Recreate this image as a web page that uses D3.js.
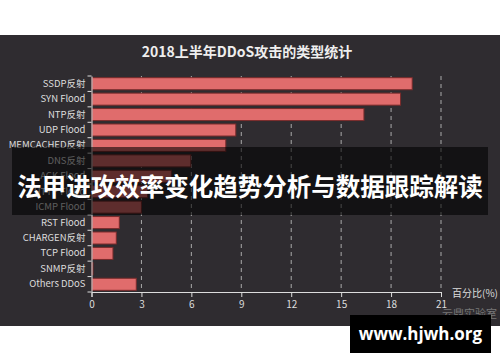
<!DOCTYPE html>
<html><head><meta charset="utf-8">
<script src="https://cdn.jsdelivr.net/npm/d3@7/dist/d3.min.js"></script>
<style>html,body{margin:0;padding:0;background:#fff;}svg{display:block;}</style>
</head><body>
<svg id="c" width="500" height="362"></svg>
<script>
const categories = ["SSDP反射","SYN Flood","NTP反射","UDP Flood","MEMCACHED反射","DNS反射","ACK Flood","HTTP Flood","ICMP Flood","RST Flood","CHARGEN反射","TCP Flood","SNMP反射","Others DDoS"];
const values = [19.27,18.57,16.37,8.67,8.07,5.97,4.8,3.37,3.0,1.67,1.49,1.29,0.07,2.69];
const xTicks = [0,3,6,9,12,15,18,21];
const title = "2018上半年DDoS攻击的类型统计";
const axisName = "百分比(%)";
const credit = "云鼎实验室";
const banner = "法甲进攻效率变化趋势分析与数据跟踪解读";
const site = "www.hjwh.org";

const svg = d3.select("#c");
const font = "'Noto Sans CJK SC','Open Sans',sans-serif";

svg.append("rect").attr("x",0).attr("y",35).attr("width",500).attr("height",291).attr("fill","#2f2c30");

svg.append("text").attr("x",247).attr("y",57).attr("text-anchor","middle")
  .attr("font-family",font).attr("font-weight","bold").attr("font-size",14).attr("fill","#eeeeee").text(title);

const x = d3.scaleLinear().domain([0,21]).range([91.5,441]);
const y = d3.scaleBand().domain(categories).range([76,292]).paddingInner(0.22).paddingOuter(0.11);
const yb = d3.scaleBand().domain(categories).range([76,292]);

// grid
svg.append("g").selectAll("line").data(xTicks.slice(1)).join("line")
  .attr("x1",d=>x(d)).attr("x2",d=>x(d)).attr("y1",76).attr("y2",292)
  .attr("stroke","#aaaaaa").attr("stroke-width",1).attr("stroke-dasharray","4,4");

// bars
svg.append("g").selectAll("rect").data(values).join("rect")
  .attr("x",x(0)+0.5).attr("y",(d,i)=>y(categories[i]))
  .attr("width",d=>Math.max(x(d)-x(0)-0.5,1)).attr("height",y.bandwidth())
  .attr("fill","#e06c6c").attr("stroke","#7a2b2b").attr("stroke-width",1);

// x axis
const xa = svg.append("g").attr("transform","translate(0,292)")
  .call(d3.axisBottom(x).tickValues(xTicks).tickSize(5).tickPadding(4));
xa.select(".domain").attr("stroke","#dddddd");
xa.selectAll(".tick line").attr("stroke","#dddddd");
xa.selectAll("text").attr("fill","#dddddd").attr("font-size",10).attr("font-family",font);

// y axis
const ya = svg.append("g").attr("transform","translate(91.5,0)")
  .call(d3.axisLeft(yb).tickSize(0).tickPadding(6));
ya.select(".domain").attr("stroke","#dddddd");
ya.selectAll("text").attr("fill","#dddddd").attr("font-size",9.5).attr("font-family",font);
svg.append("g").selectAll("line").data(categories.concat(["end"])).join("line")
  .attr("x1",87.5).attr("x2",91.5)
  .attr("y1",(d,i)=>76+i*yb.step()).attr("y2",(d,i)=>76+i*yb.step())
  .attr("stroke","#dddddd");

svg.append("text").attr("x",452).attr("y",297).attr("font-family",font).attr("font-size",10)
  .attr("fill","#dddddd").text(axisName);
svg.append("text").attr("x",497).attr("y",318).attr("text-anchor","end").attr("font-family",font).attr("font-size",11)
  .attr("fill","#777777").text(credit);

// banner overlay
svg.append("rect").attr("x",12).attr("y",147).attr("width",476).attr("height",68).attr("fill","#000").attr("opacity",0.58);
svg.append("text").attr("x",250).attr("y",195.5).attr("text-anchor","middle").attr("font-family",font)
  .attr("font-weight","bold").attr("font-size",24.5).attr("fill","#ffffff").text(banner);

// site box
svg.append("rect").attr("x",350).attr("y",315).attr("width",141).attr("height",38).attr("fill","#000");
svg.append("text").attr("x",420.5).attr("y",340).attr("text-anchor","middle").attr("font-family","'Open Sans',sans-serif")
  .attr("font-weight","bold").attr("font-size",17).attr("fill","#ffffff").text(site);
</script>
</body></html>
